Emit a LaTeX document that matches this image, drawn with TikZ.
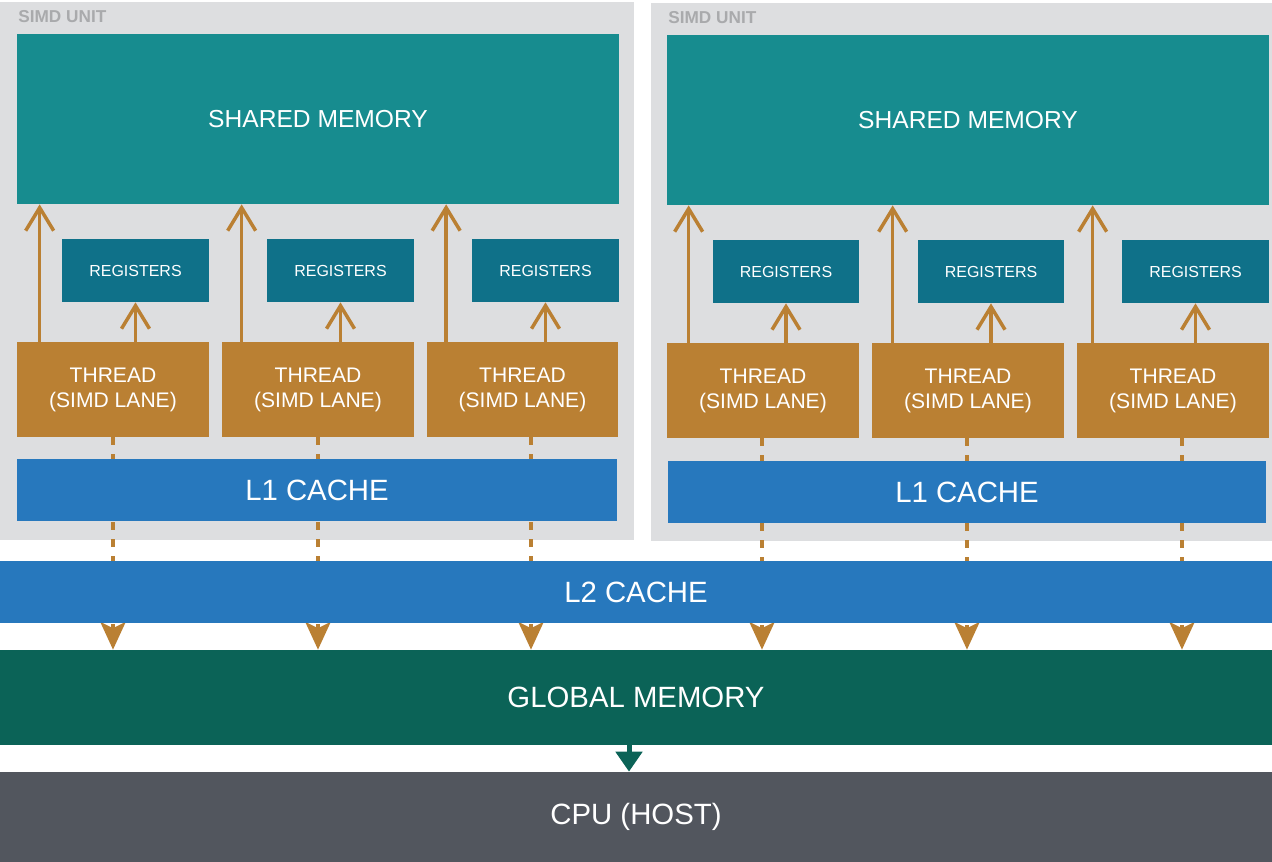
\documentclass[tikz,border=0pt]{standalone}
\usepackage{fontspec}
\setmainfont{Liberation Sans}
\usetikzlibrary{arrows.meta}
\definecolor{simdgray}{HTML}{DDDEE0}
\definecolor{labelgray}{HTML}{A9AAAC}
\definecolor{sharedteal}{HTML}{178C8F}
\definecolor{regblue}{HTML}{0F7189}
\definecolor{threadorange}{HTML}{BA8033}
\definecolor{cacheblue}{HTML}{2778BD}
\definecolor{globalgreen}{HTML}{0B6357}
\definecolor{hostgray}{HTML}{52565E}

\begin{document}
\begin{tikzpicture}[x=0.02cm,y=-0.02cm,
  box/.style={inner sep=0pt, text=white, align=center},
  unitbox/.style={fill=simdgray, inner sep=0pt, minimum height=10.76cm},
  sharedbox/.style={box, fill=sharedteal, minimum width=12.04cm, minimum height=3.4cm, font=\fontsize{14}{16}\selectfont},
  regbox/.style={box, fill=regblue, minimum width=2.94cm, minimum height=1.26cm, font=\fontsize{9.1}{11}\selectfont},
  threadbox/.style={box, fill=threadorange, minimum width=3.84cm, minimum height=1.9cm, font=\fontsize{12}{14.2}\selectfont},
  cachebox/.style={box, fill=cacheblue, minimum height=1.24cm, font=\fontsize{16.7}{19}\selectfont},
  widebox/.style={box, minimum width=25.44cm, font=\fontsize{16.7}{19}\selectfont},
  unitlabel/.style={anchor=west, inner sep=0pt, text=labelgray, font=\fontsize{9.8}{11}\selectfont\bfseries},
  uparrow/.style={draw=threadorange, line width=0.07cm, -{Straight Barb[length=0.46cm,width=0.56cm]}},
  lanearrow/.style={draw=threadorange, line width=0.08cm, dash pattern=on 0.16cm off 0.18cm, -{Stealth[length=0.55cm,width=0.5cm,inset=0.12cm]}},
  hostarrow/.style={draw=globalgreen, line width=0.1cm, -{Triangle[length=0.4cm,width=0.52cm]}}]
\useasboundingbox (0,0) rectangle (1272,862);

% simd units
\node[unitbox, minimum width=12.68cm] (simdL) at (317,271) {};
\node[unitbox, minimum width=12.42cm] (simdR) at (961.5,272) {};
\node[unitlabel] (simdLlabel) at (18,17) {SIMD UNIT};
\node[unitlabel] (simdRlabel) at (668,18) {SIMD UNIT};

\node[sharedbox] (smL) at (318,119) {SHARED MEMORY};
\node[sharedbox] (smR) at (968,120) {SHARED MEMORY};

\node[regbox] (regL1) at (135.5,270.5) {REGISTERS};
\node[regbox] (regL2) at (340.5,270.5) {REGISTERS};
\node[regbox] (regL3) at (545.5,270.5) {REGISTERS};
\node[regbox] (regR1) at (786,271.5) {REGISTERS};
\node[regbox] (regR2) at (991,271.5) {REGISTERS};
\node[regbox] (regR3) at (1195.5,271.5) {REGISTERS};

\node[threadbox] (thrL1) at (113,389.5) {THREAD\\(SIMD LANE)};
\node[threadbox] (thrL2) at (318,389.5) {THREAD\\(SIMD LANE)};
\node[threadbox] (thrL3) at (522.5,389.5) {THREAD\\(SIMD LANE)};
\node[threadbox] (thrR1) at (763,390.5) {THREAD\\(SIMD LANE)};
\node[threadbox] (thrR2) at (968,390.5) {THREAD\\(SIMD LANE)};
\node[threadbox] (thrR3) at (1173,390.5) {THREAD\\(SIMD LANE)};

% thread -> shared memory
\draw[uparrow] ([xshift=0.46cm]thrL1.north west) -- ([xshift=0.46cm]thrL1.north west |- smL.south);
\draw[uparrow] ([xshift=0.4cm]thrL2.north west) -- ([xshift=0.4cm]thrL2.north west |- smL.south);
\draw[uparrow] ([xshift=0.4cm]thrL3.north west) -- ([xshift=0.4cm]thrL3.north west |- smL.south);
\draw[uparrow] ([xshift=0.44cm]thrR1.north west) -- ([xshift=0.44cm]thrR1.north west |- smR.south);
\draw[uparrow] ([xshift=0.42cm]thrR2.north west) -- ([xshift=0.42cm]thrR2.north west |- smR.south);
\draw[uparrow] ([xshift=0.32cm]thrR3.north west) -- ([xshift=0.32cm]thrR3.north west |- smR.south);

% thread -> registers
\draw[uparrow] (regL1.south |- thrL1.north) -- (regL1.south);
\draw[uparrow] (regL2.south |- thrL2.north) -- (regL2.south);
\draw[uparrow] (regL3.south |- thrL3.north) -- (regL3.south);
\draw[uparrow] (regR1.south |- thrR1.north) -- (regR1.south);
\draw[uparrow] (regR2.south |- thrR2.north) -- (regR2.south);
\draw[uparrow] (regR3.south |- thrR3.north) -- (regR3.south);

\node[widebox, fill=globalgreen, minimum height=1.9cm] (gmem) at (636,697.5) {GLOBAL MEMORY};
\node[widebox, fill=hostgray, minimum height=1.8cm] (cpu) at (636,817) {CPU (HOST)};

% lanes down to global memory, under the caches
\draw[lanearrow] (thrL1.south) -- (thrL1.south |- gmem.north);
\draw[lanearrow] (thrL2.south) -- (thrL2.south |- gmem.north);
\draw[lanearrow] ([xshift=0.17cm]thrL3.south) -- ([xshift=0.17cm]thrL3.south |- gmem.north);
\draw[lanearrow] ([xshift=-0.02cm]thrR1.south) -- ([xshift=-0.02cm]thrR1.south |- gmem.north);
\draw[lanearrow] ([xshift=-0.02cm]thrR2.south) -- ([xshift=-0.02cm]thrR2.south |- gmem.north);
\draw[lanearrow] ([xshift=0.18cm]thrR3.south) -- ([xshift=0.18cm]thrR3.south |- gmem.north);

\node[cachebox, minimum width=12cm] (lcL) at (317,490) {L1 CACHE};
\node[cachebox, minimum width=11.96cm] (lcR) at (967,492) {L1 CACHE};
\node[widebox, fill=cacheblue, minimum height=1.24cm] (ltwo) at (636,592) {L2 CACHE};

\draw[hostarrow] ([xshift=-0.14cm]gmem.south) -- ([xshift=-0.14cm]gmem.south |- cpu.north);
\end{tikzpicture}
\end{document}
